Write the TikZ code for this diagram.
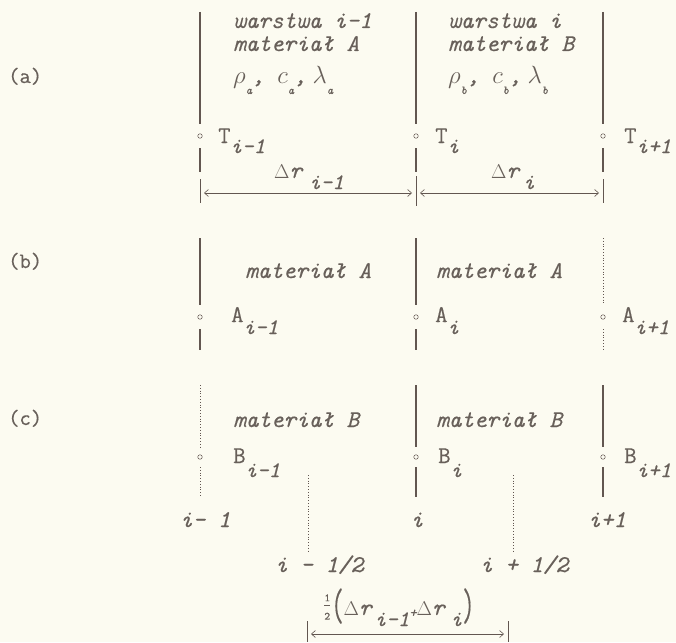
\documentclass[tikz,border=0pt]{standalone}
\usepackage{fontspec}
\usepackage{graphicx}
\usetikzlibrary{arrows.meta}
\newfontfamily\typew{Latin Modern Mono}[FakeBold=0.5]

\definecolor{paper}{RGB}{252,251,241}
\definecolor{ink}{RGB}{98,86,80}
\definecolor{inktext}{RGB}{104,96,90}

\newcommand{\lowidx}[2][10pt]{\raisebox{-#1}{\fontsize{22}{22}\selectfont #2}}
\newcommand{\tinyidx}[1]{\raisebox{-11pt}{\fontsize{12}{12}\selectfont #1}}
\newcommand{\bigparen}[1]{\raisebox{-5pt}{\scalebox{1}[1.9]{\upshape #1}}}
\newcommand{\dl}{\scalebox{0.8}{$\Delta$}}

\tikzset{
  wall/.style={draw=ink, line width=1.4pt},
  gapline/.style={draw=ink, line width=1pt, dash pattern=on 1pt off 1.8pt},
  knot/.style={circle, draw=ink, line width=0.5pt, inner sep=0pt, minimum size=4.5pt},
  lbl/.style={text=inktext, font=\fontsize{24}{26}\selectfont\typew\itshape, inner sep=0pt, anchor=base west},
  tag/.style={text=inktext, font=\fontsize{22}{24}\selectfont\typew, inner sep=0pt, anchor=base west},
  tick/.style={draw=ink, line width=0.7pt},
  dimline/.style={draw=ink, line width=0.6pt, {Straight Barb[length=4pt,width=7pt]}-{Straight Barb[length=4pt,width=7pt]}, shorten <=4pt, shorten >=4pt},
}

\begin{document}
\begin{tikzpicture}[x=1pt, y=-1pt]
    \fill[paper] (0,0) rectangle (676,642);
    \useasboundingbox (0,0) rectangle (676,642);

    % row tags
    \node[tag] (taga) at (8,83) {(a)};
    \node[tag] (tagb) at (8,268) {(b)};
    \node[tag] (tagc) at (8,425) {(c)};

    % (a) two layers
    \foreach \c/\x in {L/200, M/416, R/603} {
        \coordinate (a\c1) at (\x,12);
        \coordinate (a\c2) at (\x,124);
        \node[knot] (Ta\c) at (\x,136) {};
        \coordinate (a\c3) at (\x,148);
        \coordinate (a\c4) at (\x,172);
        \draw[wall] (a\c1) -- (a\c2) (a\c3) -- (a\c4);
    }
    \node[lbl] (layerA) at (233,28) {warstwa i-1};
    \node[lbl] (matA) at (233,51) {materiał A};
    \node[lbl] (propA) at (233,83) {$\rho$\tinyidx{a}, $c$\tinyidx{a},\hspace{6pt}$\lambda$\tinyidx{a}};
    \node[lbl] (layerB) at (448,28) {warstwa i};
    \node[lbl] (matB) at (448,51) {materiał B};
    \node[lbl] (propB) at (448,83) {$\rho$\tinyidx{b}, $c$\tinyidx{b},\hspace{6pt}$\lambda$\tinyidx{b}};
    \node[lbl] (labTL) at (218,143) {{\upshape T}\lowidx{i-1}};
    \node[lbl] (labTM) at (435,143) {{\upshape T}\lowidx{i}};
    \node[lbl] (labTR) at (624,143) {{\upshape T}\lowidx{i+1}};

    % widths of the layers
    \coordinate (tL1) at (200,179); \coordinate (tL2) at (200,203);
    \coordinate (tM1) at (416,176); \coordinate (tM2) at (416,206);
    \coordinate (tR1) at (603,179); \coordinate (tR2) at (603,203);
    \draw[tick] (tL1) -- (tL2) (tM1) -- (tM2) (tR1) -- (tR2);
    \coordinate (dL) at (200,193);
    \coordinate (dM) at (416,193);
    \coordinate (dR) at (603,193);
    \draw[dimline] (dL) -- (dM);
    \draw[dimline] (dM) -- (dR);
    \node[lbl] (drL) at (274,178) {\dl r\hspace{7pt}\lowidx[11pt]{i-1}};
    \node[lbl] (drM) at (491,178) {\dl r\hspace{4pt}\lowidx[11pt]{i}};

    % (b) material A everywhere
    \foreach \c/\x/\s in {L/200/wall, M/416/wall, R/603/gapline} {
        \coordinate (b\c1) at (\x,238);
        \coordinate (b\c2) at (\x,305);
        \node[knot] (Ab\c) at (\x,317) {};
        \coordinate (b\c3) at (\x,329);
        \coordinate (b\c4) at (\x,350);
        \draw[\s] (b\c1) -- (b\c2) (b\c3) -- (b\c4);
    }
    \node[lbl] (matbL) at (245,278) {materiał A};
    \node[lbl] (matbR) at (436,278) {materiał A};
    \node[lbl] (labAL) at (231,322) {{\upshape A}\lowidx[12pt]{i-1}};
    \node[lbl] (labAM) at (435,322) {{\upshape A}\lowidx[12pt]{i}};
    \node[lbl] (labAR) at (622,322) {{\upshape A}\lowidx[12pt]{i+1}};

    % (c) material B everywhere
    \foreach \c/\x/\s in {L/200/gapline, M/416/wall, R/603/wall} {
        \coordinate (c\c1) at (\x,385);
        \coordinate (c\c2) at (\x,447);
        \node[knot] (Bc\c) at (\x,457) {};
        \coordinate (c\c3) at (\x,467);
        \coordinate (c\c4) at (\x,497);
        \draw[\s] (c\c1) -- (c\c2) (c\c3) -- (c\c4);
    }
    \node[lbl] (matcL) at (233,427) {materiał B};
    \node[lbl] (matcR) at (436,427) {materiał B};
    \node[lbl] (labBL) at (233,463) {{\upshape B}\lowidx[14pt]{i-1}};
    \node[lbl] (labBM) at (438,463) {{\upshape B}\lowidx[14pt]{i}};
    \node[lbl] (labBR) at (624,463) {{\upshape B}\lowidx[14pt]{i+1}};

    % node indices and half steps
    \node[lbl] (idxL) at (180,527) {i- 1};
    \node[lbl, anchor=base] (idxM) at (417,527) {i};
    \node[lbl] (idxR) at (588,527) {i+1};
    \coordinate (hL1) at (308,475); \coordinate (hL2) at (308,552);
    \coordinate (hR1) at (513,475); \coordinate (hR2) at (513,552);
    \draw[gapline] (hL1) -- (hL2) (hR1) -- (hR2);
    \node[lbl] (halfL) at (275,572) {i - 1/2};
    \node[lbl] (halfR) at (480,572) {i + 1/2};

    % distance between half steps
    \coordinate (bL1) at (307,621); \coordinate (bL2) at (307,642);
    \coordinate (bR1) at (508,621); \coordinate (bR2) at (508,642);
    \draw[tick] (bL1) -- (bL2) (bR1) -- (bR2);
    \coordinate (eL) at (307,634);
    \coordinate (eR) at (508,634);
    \draw[dimline] (eL) -- (eR);
    \node[lbl] (sumdr) at (323,615) {\raisebox{4pt}{$\frac{\mbox{\fontsize{11}{11}\selectfont\upshape 1}}{\mbox{\fontsize{11}{11}\selectfont\upshape 2}}$}\bigparen{(}\dl r\hspace{3pt}\lowidx[11pt]{i-1}\lowidx[2pt]{\fontsize{14}{14}\selectfont +}\dl r\hspace{6pt}\lowidx[11pt]{i}\bigparen{)}};
\end{tikzpicture}
\end{document}
